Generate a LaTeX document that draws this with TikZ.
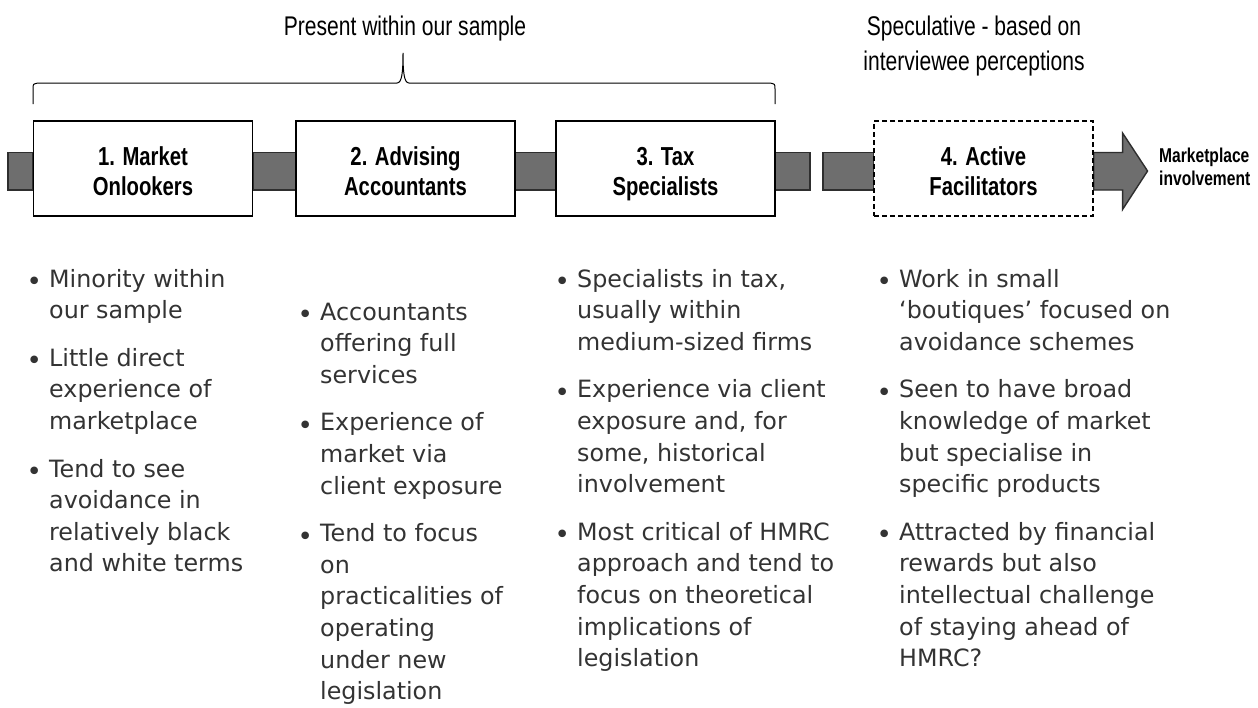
\documentclass[tikz,border=0pt]{standalone}
\usepackage{fontspec}
\setmainfont{DejaVu Sans}
\newfontfamily\narrowfont[FakeStretch=0.78]{Liberation Sans}
\usetikzlibrary{calc}

\definecolor{bartone}{HTML}{6E6E6E}
\definecolor{barline}{HTML}{2E2E2E}
\definecolor{bodytext}{HTML}{333333}

\pgfdeclarelayer{background}
\pgfsetlayers{background,main}

% one bullet point with a hanging indent
\newcommand{\bitem}[1]{\par\hangindent=22.5pt\hangafter=1\noindent
  \makebox[22.5pt][l]{\raisebox{-3.6pt}{\fontsize{26}{26}\selectfont\textbullet}}#1}
% a column of bullet points, baseline at the first line
\newcommand{\bcol}[2]{\parbox[t]{#1}{\fontsize{23.8}{31.6}\selectfont
  \raggedright\let\\\newline\setlength{\parskip}{16pt}#2}}
% struts that fix the position of the two-line stage titles
\newcommand{\topstrut}{\rule{0pt}{29pt}}
\newcommand{\botstrut}{\rule[-6pt]{0pt}{6pt}}

\begin{document}
\begin{tikzpicture}[x=1pt,y=-1pt,
  stage/.style={draw=black, line width=1.4pt, fill=white,
    minimum width=219pt, minimum height=95pt, inner sep=0pt, align=center,
    font=\narrowfont\bfseries\fontsize{26}{30}\selectfont},
  bar/.style={draw=barline, line width=1.4pt, fill=bartone},
  toplabel/.style={inner sep=0pt, font=\narrowfont\fontsize{27}{35}\selectfont},
  points/.style={inner sep=0pt, anchor=base west, text=bodytext}]
\useasboundingbox (0,0) rectangle (1258,707);

% the four stages along the line
\node[stage] (s1) at (143,168.5) {\topstrut 1. Market\\Onlookers\botstrut};
\node[stage] (s2) at (405.5,168.5) {\topstrut 2. Advising\\Accountants\botstrut};
\node[stage] (s3) at (665.5,168.5) {\topstrut 3. Tax\\Specialists\botstrut};
\node[stage, dash pattern=on 5pt off 3pt, line width=1.1pt] (s4) at (983.5,168.5)
  {\topstrut 4. Active\\Facilitators\botstrut};

\coordinate (start) at (8,168.5);
\coordinate (gapL) at (810,168.5);
\coordinate (gapR) at (823,168.5);

% grey band joining the stages, ending in an arrow
\begin{pgfonlayer}{background}
  \draw[bar] ($(start)+(0,-16)$) rectangle ($(s1.west)+(0,21.5)$);
  \draw[bar] ($(s1.east)+(0,-16)$) rectangle ($(s2.west)+(0,21.5)$);
  \draw[bar] ($(s2.east)+(0,-16)$) rectangle ($(s3.west)+(0,21.5)$);
  \draw[bar] ($(s3.east)+(0,-16)$) rectangle ($(gapL)+(0,21.5)$);
  \draw[bar] ($(gapR)+(0,-16)$) rectangle ($(s4.west)+(0,21.5)$);
  \draw[bar] ($(s4.east)+(0,-16)$) -- ++(29,0) -- ++(0,-19.5) -- ++(25,38)
    -- ++(-25,38.5) -- ++(0,-19.5) -- ($(s4.east)+(0,21.5)$) -- cycle;
\end{pgfonlayer}

\node[inner sep=0pt, anchor=base west, font=\narrowfont\bfseries\fontsize{20}{23}\selectfont] (goal) at (1159,162)
  {\begin{tabular}[t]{@{}l@{}}Marketplace\\involvement\end{tabular}};

% brace over the first three stages
\coordinate (btip) at (403,53);
\draw[line width=1pt] (33,104) -- (33,89) .. controls (33,84) .. (38,83) -- (397,83)
  .. controls (402,83) and (403,72) .. (btip)
  .. controls (403,72) and (404,83) .. (409,83) -- (770,83)
  .. controls (775,84) .. (775,89) -- (775,104);

\node[toplabel, anchor=base] (present) at (405,35) {Present within our sample};
\node[toplabel, anchor=base] (spec) at (974,35)
  {\begin{tabular}[t]{@{}c@{}}Speculative - based on\\interviewee perceptions\end{tabular}};

% descriptions under each stage
\node[points] (p1) at (26.5,287) {\bcol{250pt}{%
  \bitem{Minority within\\our sample}
  \bitem{Little direct\\experience of\\marketplace}
  \bitem{Tend to see\\avoidance in\\relatively black\\and white terms}}};

\node[points] (p2) at (297.5,320) {\bcol{250pt}{%
  \bitem{Accountants\\offering full\\services}
  \bitem{Experience of\\market via\\client exposure}
  \bitem{Tend to focus\\on\\practicalities of\\operating\\under new\\legislation}}};

\node[points] (p3) at (554.5,287) {\bcol{300pt}{%
  \bitem{Specialists in tax,\\usually within\\medium-sized firms}
  \bitem{Experience via client\\exposure and, for\\some, historical\\involvement}
  \bitem{Most critical of HMRC\\approach and tend to\\focus on theoretical\\implications of\\legislation}}};

\node[points] (p4) at (876.5,287) {\bcol{330pt}{%
  \bitem{Work in small\\‘boutiques’ focused on\\avoidance schemes}
  \bitem{Seen to have broad\\knowledge of market\\but specialise in\\specific products}
  \bitem{Attracted by financial\\rewards but also\\intellectual challenge\\of staying ahead of\\HMRC?}}};
\end{tikzpicture}
\end{document}
